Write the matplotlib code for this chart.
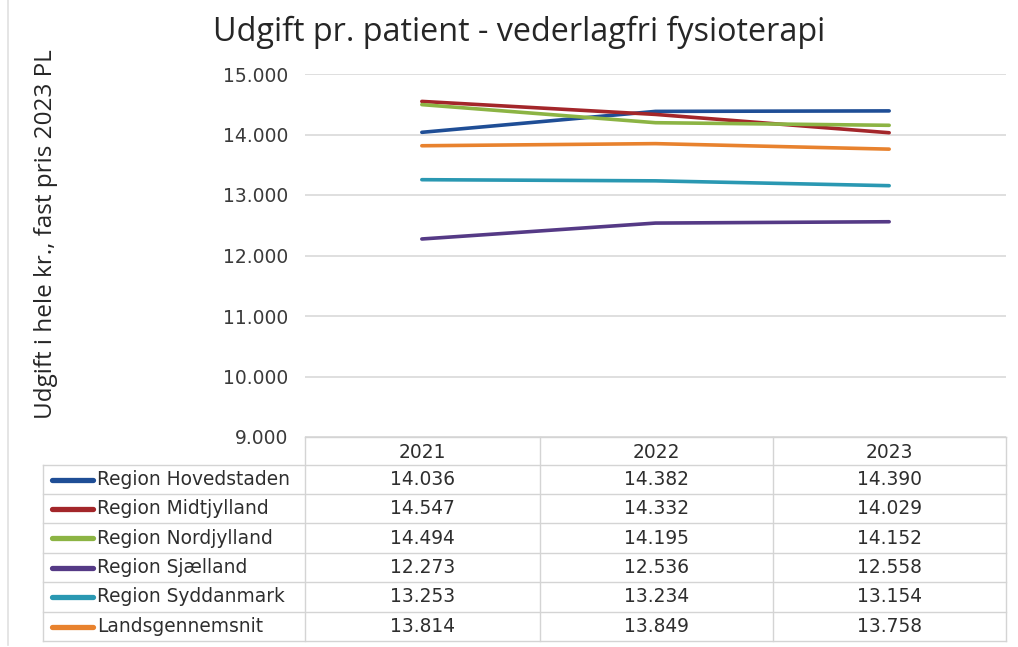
import matplotlib
matplotlib.use("Agg")
import matplotlib.pyplot as plt
from matplotlib.lines import Line2D

years = ["2021", "2022", "2023"]
series_names = ["Region Hovedstaden", "Region Midtjylland", "Region Nordjylland",
                "Region Sjælland", "Region Syddanmark", "Landsgennemsnit"]
hovedstaden = [14036, 14382, 14390]
midtjylland = [14547, 14332, 14029]
nordjylland = [14494, 14195, 14152]
sjaelland = [12273, 12536, 12558]
syddanmark = [13253, 13234, 13154]
landsgennemsnit = [13814, 13849, 13758]
series_values = [hovedstaden, midtjylland, nordjylland, sjaelland, syddanmark, landsgennemsnit]
colors = ["#1F4E96", "#A3262A", "#8CB444", "#553A86", "#2A98B2", "#E8822E"]
y_ticks = [9000, 10000, 11000, 12000, 13000, 14000, 15000]

W, H = 1018, 647
fig = plt.figure(figsize=(W / 100, H / 100), dpi=100)
fig.patch.set_facecolor("white")

def fx(px):
    return px / W

def fy(py):
    return 1 - py / H

# main plot area
left, right, top, bottom = 305, 1006, 74, 437
ax = fig.add_axes([fx(left), fy(bottom), fx(right - left), (bottom - top) / H])
x = list(range(len(years)))
for vals, c in zip(series_values, colors):
    ax.plot(x, vals, color=c, lw=2.6, solid_capstyle="round", zorder=3)
ax.set_xlim(-0.5, len(years) - 0.5)
ax.set_ylim(9000, 15000)
ax.set_yticks(y_ticks)
ax.set_yticklabels([f"{v:,}".replace(",", ".") for v in y_ticks],
                   fontsize=13.5, color="#3A3A3A")
ax.tick_params(axis="y", length=0, pad=12)
ax.set_xticks([])
ax.grid(axis="y", color="#D9D9D9", lw=1.2)
for s in ax.spines.values():
    s.set_visible(False)
ax.set_axisbelow(True)

# overlay for table, in pixel coordinates
ov = fig.add_axes([0, 0, 1, 1], facecolor="none")
ov.set_xlim(0, W)
ov.set_ylim(H, 0)
ov.axis("off")

gc = "#D4D4D4"
col_edges = [305, 540, 773, 1006]
label_left = 43
row_edges = [437, 465, 494, 523, 553, 582, 612, 641]

# header row lines
ov.add_line(Line2D([col_edges[0], col_edges[-1]], [row_edges[0], row_edges[0]], color=gc, lw=1))
for r in row_edges[1:]:
    ov.add_line(Line2D([label_left, col_edges[-1]], [r, r], color=gc, lw=1))
for cx in col_edges:
    ov.add_line(Line2D([cx, cx], [row_edges[0], row_edges[-1]], color=gc, lw=1))
ov.add_line(Line2D([label_left, label_left], [row_edges[1], row_edges[-1]], color=gc, lw=1))

# left frame line
ov.add_line(Line2D([8, 8], [0, 645], color="#E0E0E0", lw=1.2))

tc = "#2E2E2E"
fs = 13.4
for j, yr in enumerate(years):
    cx = (col_edges[j] + col_edges[j + 1]) / 2
    ov.text(cx, (row_edges[0] + row_edges[1]) / 2 + 1, yr, ha="center", va="center",
            fontsize=fs, color=tc)
for i, (name, vals, c) in enumerate(zip(series_names, series_values, colors)):
    cy = (row_edges[i + 1] + row_edges[i + 2]) / 2
    ov.add_line(Line2D([52, 93], [cy, cy], color=c, lw=3.8, solid_capstyle="round"))
    ov.text(97, cy, name, ha="left", va="center", fontsize=fs, color=tc)
    for j, v in enumerate(vals):
        cx = (col_edges[j] + col_edges[j + 1]) / 2
        ov.text(cx, cy, f"{v:,}".replace(",", "."), ha="center", va="center",
                fontsize=fs, color=tc)

# title and y label
fig.text(fx(519), fy(32), "Udgift pr. patient - vederlagfri fysioterapi",
         ha="center", va="center", fontsize=23.3, color="#262626", family="Open Sans")
fig.text(fx(46), fy(234), "Udgift i hele kr., fast pris 2023 PL", rotation=90,
         ha="center", va="center", fontsize=17.5, color="#262626", family="Open Sans")

fig.savefig("out.png", dpi=100, facecolor="white")
